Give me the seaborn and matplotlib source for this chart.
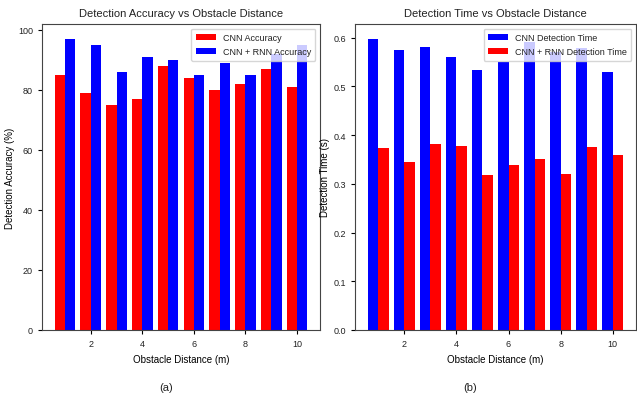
import matplotlib
matplotlib.use("Agg")
import matplotlib.pyplot as plt
import seaborn as sns
import pandas as pd

distances = [1, 2, 3, 4, 5, 6, 7, 8, 9, 10]
cnn_accuracy = [85, 79, 75, 77, 88, 84, 80, 82, 87, 81]
cnn_rnn_accuracy = [97, 95, 86, 91, 90, 85, 89, 85, 92, 95]
cnn_time = [0.598, 0.574, 0.580, 0.560, 0.534, 0.549, 0.591, 0.571, 0.578, 0.529]
cnn_rnn_time = [0.373, 0.344, 0.382, 0.378, 0.318, 0.339, 0.350, 0.321, 0.376, 0.359]

acc_labels = ["CNN Accuracy", "CNN + RNN Accuracy"]
time_labels = ["CNN Detection Time", "CNN + RNN Detection Time"]

plt.rcParams['font.family'] = ['Liberation Sans', 'DejaVu Sans']
plt.rcParams['font.size'] = 6.5
plt.rcParams['text.color'] = '#222222'
plt.rcParams['xtick.labelcolor'] = '#222222'
plt.rcParams['ytick.labelcolor'] = '#222222'
plt.rcParams['axes.edgecolor'] = '#444444'

acc_df = pd.DataFrame({
    "Distance": distances * 2,
    "Value": cnn_accuracy + cnn_rnn_accuracy,
    "Model": [acc_labels[0]] * len(distances) + [acc_labels[1]] * len(distances),
})
time_df = pd.DataFrame({
    "Distance": distances * 2,
    "Value": cnn_time + cnn_rnn_time,
    "Model": [time_labels[0]] * len(distances) + [time_labels[1]] * len(distances),
})

fig = plt.figure(figsize=(6.37, 4.02), dpi=100)
ax1 = fig.add_axes([42/637, 1-331/402, 278/637, 306/402])
ax2 = fig.add_axes([355/637, 1-331/402, 281/637, 306/402])

sns.barplot(data=acc_df, x="Distance", y="Value", hue="Model", hue_order=acc_labels,
            palette=["red", "blue"], native_scale=True, saturation=1, width=0.8,
            linewidth=0, errorbar=None, ax=ax1)
sns.barplot(data=time_df, x="Distance", y="Value", hue="Model", hue_order=time_labels,
            palette=["blue", "red"], native_scale=True, saturation=1, width=0.8,
            linewidth=0, errorbar=None, ax=ax2)

ax1.set_title("Detection Accuracy vs Obstacle Distance", fontsize=8)
ax1.set_xlabel("Obstacle Distance (m)", fontsize=7)
ax1.set_ylabel("Detection Accuracy (%)", fontsize=7)
ax1.yaxis.set_label_coords(-27/278, 0.5)
ax2.set_title("Detection Time vs Obstacle Distance", fontsize=8)
ax2.set_xlabel("Obstacle Distance (m)", fontsize=7)
ax2.set_ylabel("Detection Time (s)", fontsize=7)
ax2.yaxis.set_label_coords(-25/281, 0.5)

for ax in (ax1, ax2):
    ax.set_xticks([2, 4, 6, 8, 10])
    ax.set_xlim(0.11, 10.89)
    ax.tick_params(labelsize=6.5, length=3)
    ax.legend(loc="upper right", fontsize=6.5, title=None, handlelength=2.2,
              borderpad=0.5, labelspacing=0.6)

fig.text(166/637, 1-388/402, "(a)", ha="center", va="center", fontsize=8)
fig.text(470/637, 1-388/402, "(b)", ha="center", va="center", fontsize=8)

fig.savefig("out.png", dpi=100)
